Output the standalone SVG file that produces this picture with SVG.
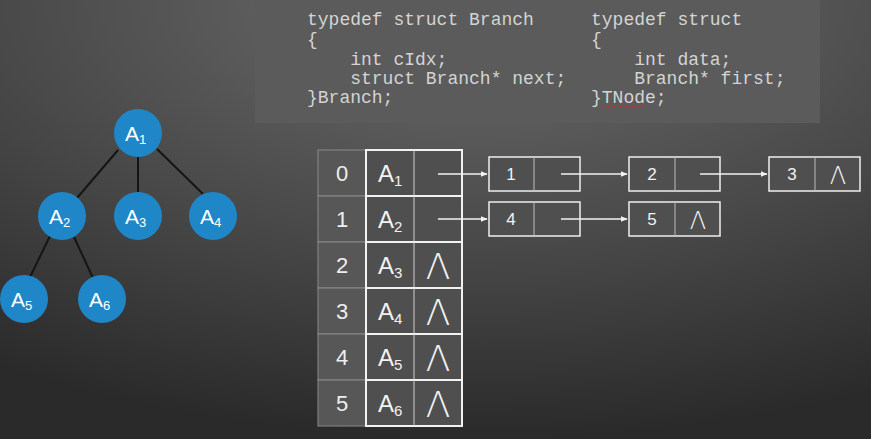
<svg xmlns="http://www.w3.org/2000/svg" width="871" height="439" viewBox="0 0 871 439">
<defs>
<radialGradient id="bg" cx="0.55" cy="0" r="1.0" gradientUnits="objectBoundingBox">
<stop offset="0" stop-color="#6c6c6c"/>
<stop offset="0.6" stop-color="#464646"/>
<stop offset="1" stop-color="#2a2a2a"/>
</radialGradient>
<marker id="ah" viewBox="0 0 10 10" refX="9" refY="5" markerWidth="7" markerHeight="7" orient="auto" markerUnits="userSpaceOnUse">
<path d="M0,1 L10,5 L0,9 z" fill="#f2f2f2"/>
</marker>
<style>
.code{font-family:"Liberation Mono","Courier New",monospace;font-size:18px;fill:#d4d4d4;white-space:pre}
.tn circle{fill:#1f87c8}
.tn text{font-family:"Liberation Sans",Arial,sans-serif;fill:#ffffff;font-size:21px}
.sub{font-size:13px}
.edge{stroke:#151515;stroke-width:2}
.idx rect{fill:#575757;stroke:#8a8a8a;stroke-width:1}
.idx text{font-family:"Liberation Sans",Arial,sans-serif;fill:#eeeeee;font-size:22px;text-anchor:middle}
.dat rect{fill:#4f4f4f;stroke:#f2f2f2;stroke-width:2}
.dat line{stroke:#cfcfcf;stroke-width:1}
.dat .a{font-family:"Liberation Sans",Arial,sans-serif;fill:#f2f2f2;font-size:24px}
.dat .s{font-size:15px}
.nul{font-family:"DejaVu Sans","Liberation Sans",sans-serif;fill:#f2f2f2;text-anchor:middle;font-weight:200}
.nb{font-size:36px}
.ns{font-size:24px}
.lk rect{fill:#4f4f4f;stroke:#eeeeee;stroke-width:1.5}
.lk line{stroke:#bdbdbd;stroke-width:1}
.lk .v{font-family:"Liberation Sans",Arial,sans-serif;fill:#f2f2f2;font-size:17px;text-anchor:middle}
.arr{stroke:#f2f2f2;stroke-width:1.5;fill:none;marker-end:url(#ah)}
</style>
</defs>
<rect x="0" y="0" width="871" height="439" fill="url(#bg)"/>
<g id="code">
<rect x="255" y="0" width="565" height="123" fill="#5b5b5b"/>
<text class="code" x="307" y="25">typedef struct Branch</text>
<text class="code" x="307" y="45">{</text>
<text class="code" x="307" y="65">    int cIdx;</text>
<text class="code" x="307" y="84">    struct Branch* next;</text>
<text class="code" x="307" y="103">}Branch;</text>
<text class="code" x="591" y="25">typedef struct</text>
<text class="code" x="591" y="45">{</text>
<text class="code" x="591" y="65">    int data;</text>
<text class="code" x="591" y="84">    Branch* first;</text>
<text class="code" x="591" y="103">}TNode;</text>
<path d="M602,107 l3,-2 l3,2 l3,-2 l3,2 l3,-2 l3,2 l3,-2 l3,2 l3,-2 l3,2 l3,-2 l3,2 l3,-2 l3,2" stroke="#c03030" stroke-width="1" fill="none"/>
</g>
<g id="edges">
<line class="edge" x1="118" y1="150" x2="77" y2="198"/>
<line class="edge" x1="138" y1="157" x2="138" y2="192"/>
<line class="edge" x1="157" y1="149" x2="203" y2="194"/>
<line class="edge" x1="50" y1="236" x2="30" y2="277"/>
<line class="edge" x1="74" y1="237" x2="93" y2="278"/>
</g>
<g id="A1" class="tn"><circle cx="138" cy="133" r="24"/><text x="125" y="141">A<tspan class="sub" dy="3">1</tspan></text></g>
<g id="A2" class="tn"><circle cx="62" cy="216" r="24"/><text x="49" y="224">A<tspan class="sub" dy="3">2</tspan></text></g>
<g id="A3" class="tn"><circle cx="138" cy="216" r="24"/><text x="125" y="224">A<tspan class="sub" dy="3">3</tspan></text></g>
<g id="A4" class="tn"><circle cx="213" cy="216" r="24"/><text x="200" y="224">A<tspan class="sub" dy="3">4</tspan></text></g>
<g id="A5" class="tn"><circle cx="24" cy="299" r="24"/><text x="11" y="307">A<tspan class="sub" dy="3">5</tspan></text></g>
<g id="A6" class="tn"><circle cx="102" cy="299" r="24"/><text x="89" y="307">A<tspan class="sub" dy="3">6</tspan></text></g>
<g id="table">
<g class="idx">
<rect x="318" y="150" width="48" height="46"/><text x="342" y="181">0</text>
<rect x="318" y="196" width="48" height="46"/><text x="342" y="227">1</text>
<rect x="318" y="242" width="48" height="46"/><text x="342" y="273">2</text>
<rect x="318" y="288" width="48" height="46"/><text x="342" y="319">3</text>
<rect x="318" y="334" width="48" height="46"/><text x="342" y="365">4</text>
<rect x="318" y="380" width="48" height="46"/><text x="342" y="411">5</text>
</g>
<g class="dat">
<rect x="366" y="150" width="96" height="46"/><line x1="414" y1="150" x2="414" y2="196"/><text class="a" x="378" y="182">A<tspan class="s" dy="4">1</tspan></text>
<rect x="366" y="196" width="96" height="46"/><line x1="414" y1="196" x2="414" y2="242"/><text class="a" x="378" y="228">A<tspan class="s" dy="4">2</tspan></text>
<rect x="366" y="242" width="96" height="46"/><line x1="414" y1="242" x2="414" y2="288"/><text class="a" x="378" y="274">A<tspan class="s" dy="4">3</tspan></text>
<rect x="366" y="288" width="96" height="46"/><line x1="414" y1="288" x2="414" y2="334"/><text class="a" x="378" y="320">A<tspan class="s" dy="4">4</tspan></text>
<rect x="366" y="334" width="96" height="46"/><line x1="414" y1="334" x2="414" y2="380"/><text class="a" x="378" y="366">A<tspan class="s" dy="4">5</tspan></text>
<rect x="366" y="380" width="96" height="46"/><line x1="414" y1="380" x2="414" y2="426"/><text class="a" x="378" y="412">A<tspan class="s" dy="4">6</tspan></text>
<text class="nul nb" x="438" y="279">Λ</text>
<text class="nul nb" x="438" y="325">Λ</text>
<text class="nul nb" x="438" y="371">Λ</text>
<text class="nul nb" x="438" y="417">Λ</text>
</g>
</g>
<g id="n1" class="lk"><rect x="489" y="157" width="91" height="34"/><line x1="534" y1="157" x2="534" y2="191"/><text class="v" x="511" y="180">1</text></g>
<g id="n2" class="lk"><rect x="629" y="157" width="91" height="34"/><line x1="675" y1="157" x2="675" y2="191"/><text class="v" x="652" y="180">2</text></g>
<g id="n3" class="lk"><rect x="769" y="157" width="91" height="34"/><line x1="815" y1="157" x2="815" y2="191"/><text class="v" x="792" y="180">3</text><text class="nul ns" x="838" y="184">Λ</text></g>
<g id="n4" class="lk"><rect x="489" y="202" width="91" height="34"/><line x1="534" y1="202" x2="534" y2="236"/><text class="v" x="511" y="225">4</text></g>
<g id="n5" class="lk"><rect x="629" y="202" width="91" height="34"/><line x1="675" y1="202" x2="675" y2="236"/><text class="v" x="652" y="225">5</text><text class="nul ns" x="698" y="229">Λ</text></g>
<g id="connectors">
<line class="arr" x1="438" y1="174" x2="487" y2="174"/>
<line class="arr" x1="561" y1="174" x2="627" y2="174"/>
<line class="arr" x1="700" y1="174" x2="767" y2="174"/>
<line class="arr" x1="438" y1="219" x2="487" y2="219"/>
<line class="arr" x1="561" y1="219" x2="627" y2="219"/>
</g>
</svg>
